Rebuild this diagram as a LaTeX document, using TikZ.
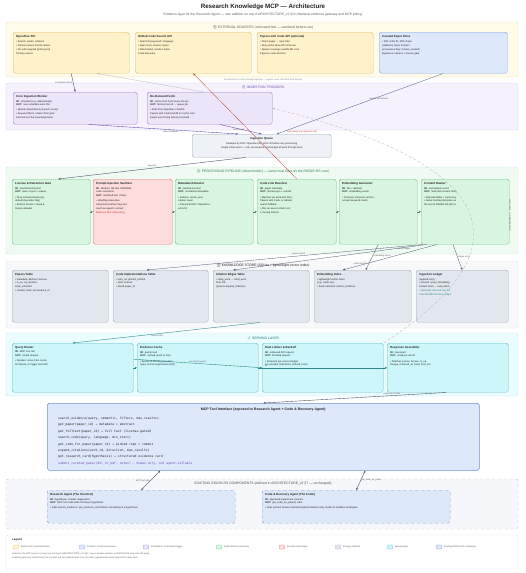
\documentclass[tikz,border=0pt]{standalone}
\usepackage{fontspec}
\setmainfont{Liberation Sans}
\setmonofont{DejaVu Sans Mono}
\newfontfamily\emo{Noto Emoji}
\usepackage{tikz}
\usetikzlibrary{arrows.meta,positioning,calc}
\usepackage{xcolor}
\definecolor{txtdark}{HTML}{222222}
\definecolor{txtgray}{HTML}{5A5A5A}
\definecolor{extfill}{HTML}{FFFBEA}
\definecolor{extline}{HTML}{F2E3A6}
\definecolor{srcfill}{HTML}{FFF1C9}
\definecolor{srcline}{HTML}{E2C36A}
\definecolor{curfill}{HTML}{DDE9FB}
\definecolor{curline}{HTML}{7FA3DD}
\definecolor{trigfill}{HTML}{F6F2FD}
\definecolor{trigline}{HTML}{DACFF2}
\definecolor{trigbox}{HTML}{ECE5FA}
\definecolor{trigboxline}{HTML}{9B86CB}
\definecolor{trigtext}{HTML}{6A4FB0}
\definecolor{queuefill}{HTML}{EEF2F7}
\definecolor{queueline}{HTML}{9FAEC2}
\definecolor{pipefill}{HTML}{EFFBF2}
\definecolor{pipeln}{HTML}{C9EDD3}
\definecolor{procfill}{HTML}{D8F5E0}
\definecolor{procline}{HTML}{74C28A}
\definecolor{pipetext}{HTML}{2E7D4F}
\definecolor{secfill}{HTML}{FDDCDC}
\definecolor{secline}{HTML}{E07B7B}
\definecolor{sectext}{HTML}{C62828}
\definecolor{storefill}{HTML}{F7F8FA}
\definecolor{storeline}{HTML}{DDE2E9}
\definecolor{tablefill}{HTML}{E2E7EE}
\definecolor{tableline}{HTML}{A3AEBD}
\definecolor{servfill}{HTML}{EBFCFE}
\definecolor{servline}{HTML}{B8EEF4}
\definecolor{servbox}{HTML}{CDF6FA}
\definecolor{servboxline}{HTML}{5EC2CE}
\definecolor{servtext}{HTML}{1F6F7A}
\definecolor{mcpfill}{HTML}{DDE8FA}
\definecolor{mcpline}{HTML}{6F93D3}
\definecolor{exfill}{HTML}{F5F7FB}
\definecolor{exline}{HTML}{B9C3D3}
\definecolor{agentfill}{HTML}{DCE7F8}
\definecolor{agentline}{HTML}{7F9ED3}
\definecolor{slate}{HTML}{4A4F6A}
\definecolor{faint}{HTML}{B4B4BC}
\definecolor{redline}{HTML}{C0392B}
\definecolor{tealline}{HTML}{2A8A8A}
\definecolor{curarrow}{HTML}{5A6F9A}
\definecolor{legline}{HTML}{E3E6EA}

\newcommand{\boxttl}[1]{{\bfseries\fontsize{2.9}{3.9}\selectfont #1}}

\tikzset{
  panel/.style={rounded corners=2pt, line width=0.4pt},
  cbox/.style={draw, rounded corners=1.8pt, line width=0.45pt, anchor=north west, inner sep=0pt},
  boxtxt/.style={anchor=north west, inner sep=0pt, align=left, font=\fontsize{2.5}{3.9}\selectfont, text=txtdark},
  hdr/.style={inner sep=0pt, font=\fontsize{3.4}{4}\selectfont},
  elabel/.style={inner sep=0.6pt, font=\fontsize{2.2}{2.6}\selectfont, text=txtgray},
  flow/.style={->, line width=0.4pt},
  swatch/.style={draw, line width=0.35pt, minimum width=5pt, minimum height=4pt, inner sep=0pt, rounded corners=0.5pt},
  legtxt/.style={inner sep=0pt, font=\fontsize{2.3}{2.8}\selectfont, text=txtgray}
}

\begin{document}
\begin{tikzpicture}[x=1pt,y=-1pt,>={Stealth[length=2.4pt,width=1.9pt]}]
  \fill[white] (0,0) rectangle (526,573);
  \useasboundingbox (0,0) rectangle (526,573);

  % Title
  \node[font=\bfseries\fontsize{6.2}{7}\selectfont, text=txtdark] (title) at (263,7) {Research Knowledge MCP — Architecture};
  \node[font=\fontsize{3.3}{4}\selectfont, text=txtgray] (subtitle) at (263,15) {Evidence layer for the Research Agent — new addition on top of ARCHITECTURE\_v2 §14 (Optional evidence gateway and MCP policy)};

  % External sources
  \draw[panel, fill=extfill, draw=extline] (6,22) rectangle (518,77);
  \node[hdr, text=txtgray] at (263,27) {{\emo 🌐} EXTERNAL SOURCES (untrusted text — sanitised before use)};
  \node[cbox, fill=srcfill, draw=srcline, minimum width=116pt, minimum height=41pt] (oalex) at (13,32) {};
  \node[boxtxt] at ([shift={(3,3)}]oalex.north west) {\boxttl{OpenAlex API}\\[1.5pt] • Search, works, citations\\ • Full-text where license allows\\ • No auth required (polite pool)\\ Primary source};
  \node[cbox, fill=srcfill, draw=srcline, minimum width=116pt, minimum height=41pt] (ghcode) at (135,32) {};
  \node[boxtxt] at ([shift={(3,3)}]ghcode.north west) {\boxttl{GitHub Code Search API}\\[1.5pt] • Search by keyword / language\\ • Repo stars, license, topics\\ • Rate limited, needs a token\\ Code discovery};
  \node[cbox, fill=srcfill, draw=srcline, minimum width=116pt, minimum height=41pt] (pwc) at (257,32) {};
  \node[boxtxt] at ([shift={(3,3)}]pwc.north west) {\boxttl{Papers with Code API (optional)}\\[1.5pt] • Direct paper → repo links\\ • Only works when API is known\\ • Sparse coverage outside ML core\\ Paper-to-code shortcut};
  \node[cbox, fill=curfill, draw=curline, minimum width=128pt, minimum height=41pt] (inbox) at (379,32) {};
  \node[boxtxt] at ([shift={(3,3)}]inbox.north west) {\boxttl{Curated Paper Inbox}\\[1.5pt] • DOI, arXiv ID, PDF drops\\ (added by hand, trusted +\\ provenance flag: human\_curated)\\ Bypasses crawlers + license gate};
  \node[elabel, text=faint!70!black] at (263,80) {All external text enters through ingestion — agents never call these APIs directly};

  % Ingestion triggers
  \draw[panel, fill=trigfill, draw=trigline] (6,83) rectangle (518,130);
  \node[hdr, text=trigtext] at (263,87) {{\emo ⏱} INGESTION TRIGGERS};
  \node[cbox, fill=trigbox, draw=trigboxline, minimum width=124pt, minimum height=32pt] (cron) at (13,92) {};
  \node[boxtxt] at ([shift={(3,3)}]cron.north west) {\boxttl{Cron Ingestion Worker}\\[0.8pt] \textbf{IN:}\enspace schedule (e.g. daily/weekly)\\ \textbf{OUT:}\enspace new candidate work IDs\\[0.8pt] • Queries OpenAlex by saved concept\\ • Keyword filters, citation floor gate\\ Self-sources the knowledge base};
  \node[cbox, fill=trigbox, draw=trigboxline, minimum width=125pt, minimum height=32pt] (ondemand) at (147,92) {};
  \node[boxtxt] at ([shift={(3,3)}]ondemand.north west) {\boxttl{On-Demand Fetch}\\[0.8pt] \textbf{IN:}\enspace cache miss from Query Router\\ \textbf{OUT:}\enspace fetched record → queue job\\[0.8pt] • Pulls from OpenAlex / GitHub\\ Papers with Code backfill on cache miss\\ Keeps user-facing latency bounded};

  % Ingestion queue
  \node[cbox, fill=queuefill, draw=queueline, minimum width=139pt, minimum height=23pt] (queue) at (192,134) {};
  \node[anchor=north, inner sep=0pt, align=center, font=\fontsize{2.5}{4.8}\selectfont, text=txtdark] at ([yshift=-3pt]queue.north) {\boxttl{Ingestion Queue}\\ Dedupes by DOI / OpenAlex ID / arXiv ID before any processing\\ Single choke point — rate, provenance, and budget all pass through here};

  % Processing pipeline
  \draw[panel, fill=pipefill, draw=pipeln] (6,167) rectangle (518,254);
  \node[hdr, text=pipetext] at (263,171) {{\emo ⚙} PROCESSING PIPELINE (deterministic) — same trust rules as the RIGOR-RS core)};
  \node[cbox, fill=procfill, draw=procline, minimum width=78pt, minimum height=65pt] (gate) at (12,179) {};
  \node[boxtxt] at ([shift={(3,3)}]gate.north west) {\boxttl{License \& Retraction Gate}\\[0.8pt] \textbf{IN:}\enspace raw fetched record\\ \textbf{OUT:}\enspace pass / reject + reason\\[1.2pt] • Drop retracted works (by\\ default OpenAlex flag)\\ • Enforce license / reuse \&\\ license allowlist};
  \node[cbox, fill=secfill, draw=secline, minimum width=79pt, minimum height=65pt] (sanit) at (93,179) {};
  \node[boxtxt] at ([shift={(3,3)}]sanit.north west) {\boxttl{Prompt-Injection Sanitizer}\\[0.8pt] \textbf{IN:}\enspace abstract, full-text, README,\\ code comments\\ \textbf{OUT:}\enspace sanitised text + flags\\[1.2pt] • Strip/flag imperative\\ instructions before they can\\ reach an agent's context\\ \textcolor{sectext}{Enforces §14.1 (ID policy)}};
  \node[cbox, fill=procfill, draw=procline, minimum width=78pt, minimum height=65pt] (meta) at (175,179) {};
  \node[boxtxt] at ([shift={(3,3)}]meta.north west) {\boxttl{Metadata Extractor}\\[0.8pt] \textbf{IN:}\enspace sanitised record\\ \textbf{OUT:}\enspace normalised metadata\\[1.2pt] • Authors, venue, year,\\ citation count\\ • Canonical DOI / OpenAlex /\\ arXiv ID};
  \node[cbox, fill=procfill, draw=procline, minimum width=79pt, minimum height=65pt] (codelink) at (257,179) {};
  \node[boxtxt] at ([shift={(3,3)}]codelink.north west) {\boxttl{Code Link Resolver}\\[0.8pt] \textbf{IN:}\enspace paper metadata\\ \textbf{OUT:}\enspace pinned repo + commit\\[1.2pt] • Matches via extracted links,\\ Papers with Code, or GitHub\\ search fallback\\ • Pins an exact commit, not\\ a moving branch};
  \node[cbox, fill=procfill, draw=procline, minimum width=78pt, minimum height=65pt] (embed) at (339,179) {};
  \node[boxtxt] at ([shift={(3,3)}]embed.north west) {\boxttl{Embedding Generator}\\[0.8pt] \textbf{IN:}\enspace title + abstract\\ \textbf{OUT:}\enspace embedding vector\\[1.2pt] • Produces semantic vectors,\\ not just keyword match};
  \node[cbox, fill=procfill, draw=procline, minimum width=88pt, minimum height=65pt] (hasher) at (421,179) {};
  \node[boxtxt] at ([shift={(3,3)}]hasher.north west) {\boxttl{Content Hasher}\\[0.8pt] \textbf{IN:}\enspace normalised record\\ \textbf{OUT:}\enspace SHA-256 content hash\\[1.2pt] • Reproducibility + cache key\\ • Same hashing discipline as\\ the rest of RIGOR-RS (§8.1)};
  \draw[flow, draw=procline!70!black] (gate.east) -- (sanit.west);
  \draw[flow, draw=procline!70!black] (sanit.east) -- (meta.west);
  \draw[flow, draw=procline!70!black] (meta.east) -- (codelink.west);
  \draw[flow, draw=procline!70!black] (codelink.east) -- (embed.west);
  \draw[flow, draw=procline!70!black] (embed.east) -- (hasher.west);

  % Knowledge store
  \draw[panel, fill=storefill, draw=storeline] (6,261) rectangle (518,328);
  \node[hdr, text=txtdark] at (263,265) {{\emo 🗄} KNOWLEDGE STORE (SQLite + lightweight vector index)};
  \node[cbox, fill=tablefill, draw=tableline, minimum width=96pt, minimum height=52pt] (papers) at (12,270) {};
  \node[boxtxt] at ([shift={(3,3)}]papers.north west) {\boxttl{Papers Table}\\[0.8pt] • metadata, abstract, license\\ • is\_oa, oa\_location,\\ work\_retracted\\ • content\_hash, provenance\_id};
  \node[cbox, fill=tablefill, draw=tableline, minimum width=95pt, minimum height=52pt] (codeimpl) at (113,270) {};
  \node[boxtxt] at ([shift={(3,3)}]codeimpl.north west) {\boxttl{Code Implementations Table}\\[0.8pt] • repo\_url, pinned\_commit\\ • stars, license\\ • linked paper\_id};
  \node[cbox, fill=tablefill, draw=tableline, minimum width=96pt, minimum height=52pt] (citation) at (213,270) {};
  \node[boxtxt] at ([shift={(3,3)}]citation.north west) {\boxttl{Citation Edges Table}\\[0.8pt] • citing\_work → cited\_work\\ from OA\\ (powers expand\_citations)};
  \node[cbox, fill=tablefill, draw=tableline, minimum width=97pt, minimum height=52pt] (embindex) at (314,270) {};
  \node[boxtxt] at ([shift={(3,3)}]embindex.north west) {\boxttl{Embedding Index}\\[0.8pt] • lightweight vector index\\ (e.g. sqlite-vec)\\ • feeds semantic search\_evidence};
  \node[cbox, fill=tablefill, draw=tableline, minimum width=92pt, minimum height=52pt] (ledger) at (416,270) {};
  \node[boxtxt] at ([shift={(3,3)}]ledger.north west) {\boxttl{Ingestion Ledger}\\[0.8pt] (append-only)\\ • records: query, timestamp,\\ content hash → every fetch\\ \textcolor{tealline}{• optionally mirrored into the}\\ \textcolor{tealline}{main RIGOR-RS Run Ledger}};

  % Serving layer
  \draw[panel, fill=servfill, draw=servline] (6,333) rectangle (518,396);
  \node[hdr, text=servtext] at (263,338) {{\emo ⚡} SERVING LAYER};
  \node[cbox, fill=servbox, draw=servboxline, minimum width=121pt, minimum height=49pt] (router) at (12,343) {};
  \node[boxtxt] at ([shift={(3,3)}]router.north west) {\boxttl{Query Router}\\[0.8pt] \textbf{IN:}\enspace MCP tool call\\ \textbf{OUT:}\enspace routed request\\[1.2pt] • Decides: serve from cache,\\ hit SQLite, or trigger live fetch};
  \node[cbox, fill=servbox, draw=servboxline, minimum width=121pt, minimum height=49pt] (cache) at (137,343) {};
  \node[boxtxt] at ([shift={(3,3)}]cache.north west) {\boxttl{Evidence Cache}\\[0.8pt] \textbf{IN:}\enspace query hash\\ \textbf{OUT:}\enspace cached result or miss\\[1.2pt] • Avoids re-fetching the same\\ query across experiments (§11)};
  \node[cbox, fill=servbox, draw=servboxline, minimum width=121pt, minimum height=49pt] (rate) at (262,343) {};
  \node[boxtxt] at ([shift={(3,3)}]rate.north west) {\boxttl{Rate Limiter \& Backoff}\\[0.8pt] \textbf{IN:}\enspace outbound API request\\ \textbf{OUT:}\enspace throttled request\\[1.2pt] • Respects per-source budget\\ per provider (OpenAlex, GitHub, PwC)};
  \node[cbox, fill=servbox, draw=servboxline, minimum width=121pt, minimum height=49pt] (assembler) at (387,343) {};
  \node[boxtxt] at ([shift={(3,3)}]assembler.north west) {\boxttl{Response Assembler}\\[0.8pt] \textbf{IN:}\enspace raw result\\ \textbf{OUT:}\enspace evidence record\\[1.2pt] • Attaches source, license, is\_oa,\\ lineage, retrieved\_at, hash, trust\_tier};

  % MCP tool interface
  \node[cbox, fill=mcpfill, draw=mcpline, line width=0.6pt, minimum width=432pt, minimum height=67pt] (mcp) at (47,403) {};
  \node[anchor=north, inner sep=0pt, font=\bfseries\fontsize{3.5}{4}\selectfont, text=txtdark] at ([yshift=-5pt]mcp.north) {MCP Tool Interface (exposed to Research Agent + Code \& Recovery Agent)};
  \node[anchor=north west, inner sep=0pt, align=left, font=\ttfamily\fontsize{3.1}{6.4}\selectfont, text=txtdark] at ([shift={(11,14)}]mcp.north west) {search\_evidence(query, semantic, filters, max\_results)\\ get\_paper(paper\_id) → metadata + abstract\\ get\_fulltext(paper\_id) → full text (license-gated)\\ search\_code(query, language, min\_stars)\\ get\_code\_for\_paper(paper\_id) → pinned repo + commit\\ expand\_citations(work\_id, direction, max\_results)\\ get\_research\_card(hypothesis) → structured evidence card\\ \textcolor{trigtext}{submit\_curated\_paper(doi\_or\_pdf, notes) — human-only, not agent-callable}};

  % Existing RIGOR-RS components
  \draw[panel, dashed, fill=exfill, draw=exline] (6,479) rectangle (518,529);
  \node[hdr, text=txtdark!80] at (263,484) {EXISTING RIGOR-RS COMPONENTS (defined in ARCHITECTURE\_v2 §7 — unchanged)};
  \node[cbox, dashed, fill=agentfill, draw=agentline, minimum width=188pt, minimum height=33pt] (research) at (47,490) {};
  \node[boxtxt] at ([shift={(3,3)}]research.north west) {\boxttl{Research Agent (The Scientist)}\\[0.8pt] \textbf{IN:}\enspace hypothesis, context, diagnostics\\ \textbf{OUT:}\enspace MCP tool calls while forming a hypothesis\\[0.8pt] • Calls search\_evidence / get\_research\_card before committing to a hypothesis};
  \node[cbox, dashed, fill=agentfill, draw=agentline, minimum width=188pt, minimum height=33pt] (coder) at (262,490) {};
  \node[boxtxt] at ([shift={(3,3)}]coder.north west) {\boxttl{Code \& Recovery Agent (The Coder)}\\[0.8pt] \textbf{IN:}\enspace approved experiment contract\\ \textbf{OUT:}\enspace get\_code\_for\_paper() calls\\[0.8pt] • Uses pinned, license-checked implementations only, inside its sandbox workspace};

  % Legend
  \draw[panel, fill=white, draw=legline] (6,535) rectangle (518,569);
  \node[anchor=west, inner sep=0pt, font=\bfseries\fontsize{2.8}{3.2}\selectfont, text=txtdark] (legtitle) at (12,540) {Legend};
  \node[swatch, fill=srcfill, draw=srcline] (lgsrc) at (16,547) {};
  \node[legtxt, right=2pt of lgsrc] {External API (untrusted text)};
  \node[swatch, fill=curfill, draw=curline] (lgcur) at (82,547) {};
  \node[legtxt, right=2pt of lgcur] {Curated / human provenance};
  \node[swatch, fill=trigbox, draw=trigboxline] (lgtrig) at (146,547) {};
  \node[legtxt, right=2pt of lgtrig] {Scheduled / on-demand trigger};
  \node[swatch, fill=procfill, draw=procline] (lgproc) at (219,547) {};
  \node[legtxt, right=2pt of lgproc] {Deterministic processing};
  \node[swatch, fill=secfill, draw=secline] (lgsec) at (282,547) {};
  \node[legtxt, right=2pt of lgsec] {Security-critical gate};
  \node[swatch, fill=tablefill, draw=tableline] (lgstore) at (338,547) {};
  \node[legtxt, right=2pt of lgstore] {Storage (SQLite)};
  \node[swatch, fill=servbox, draw=servboxline] (lgserv) at (390,547) {};
  \node[legtxt, right=2pt of lgserv] {Serving layer};
  \node[swatch, fill=agentfill, draw=agentline] (lgex) at (439,547) {};
  \node[legtxt, right=2pt of lgex] {Existing RIGOR-RS component};
  \node[anchor=north west, inner sep=0pt, align=left, font=\fontsize{2.2}{4}\selectfont, text=txtgray] at (12,553) {Authority: the MCP server is a read-only tool layer (ARCHITECTURE\_v2 §14); it never decides verdicts, and RIGOR-RS core rules still apply.\\ Curated papers are marked trust\_tier=curated and are preferred over trust\_tier=auto\_ingested when both support the same claim.};

  % Connectors: sources and triggers
  \draw[flow, draw=slate] (oalex.south) -- (cron.north) node[elabel, midway, left] {scheduled search};
  \draw[flow, line width=0.3pt, draw=faint] ([xshift=-6pt]ondemand.north) -- ([xshift=26pt]oalex.south);
  \draw[flow, line width=0.3pt, draw=redline] (codelink.north) -- (ghcode.south) node[elabel, text=redline, pos=0.45, right=36pt] {repo lookup (tool-injection risk)};
  \draw[flow, draw=curarrow] (inbox.south) -- ([xshift=15pt]queue.north) node[elabel, pos=0.45, above right] {curated submission};
  \draw[flow, draw=trigtext] ([xshift=13pt]cron.south) -- ([xshift=-23.5pt]queue.north) node[elabel, pos=0.55, below] {new candidates};
  \draw[flow, draw=trigtext] ([xshift=10pt]ondemand.south) -- (queue.north) node[elabel, pos=0.6, left] {fetch result};
  \draw[flow, line width=0.3pt, draw=faint, densely dashed] (rate.north east) .. controls (520,255) and (515,168) .. (ondemand.east) node[elabel, pos=0.5, xshift=40pt, rotate=-90] {cache miss → on-demand fetch};
  \draw[flow, draw=slate] ([xshift=-16pt]queue.south) -- ([xshift=7pt]gate.north) node[elabel, midway, above] {dequeue};

  % Connectors: pipeline to knowledge store
  \draw[flow, line width=0.3pt, draw=slate] ([xshift=2pt]hasher.south west) -- ([xshift=-14pt]codeimpl.north) node[elabel, pos=0.45, above] {paper record};
  \draw[flow, line width=0.3pt, draw=slate] ([xshift=6pt]hasher.south west) -- ([xshift=-28pt]citation.north) node[elabel, pos=0.12, below] {citation edges};
  \draw[flow, line width=0.3pt, draw=slate] (embed.south) -- ([xshift=3pt]embindex.north) node[elabel, pos=0.45, right] {embedding vector};
  \draw[flow, line width=0.3pt, draw=slate] ([xshift=16pt]hasher.south west) -- ([xshift=-20pt]embindex.north) node[elabel, pos=0.75, left] {code record};
  \draw[flow, line width=0.3pt, draw=slate] ([xshift=32pt]hasher.south west) -- (ledger.north) node[elabel, midway, right] {ledger entry};

  % Connectors: serving layer
  \draw[flow, draw=tealline] ([xshift=-1pt]citation.south) -- (router.north) node[elabel, pos=0.55, below] {stored rows};
  \draw[flow, draw=tealline] (router.east) -- (cache.west);
  \draw[flow, draw=tealline] ([yshift=8.5pt]router.east) -- (rate.west) node[elabel, pos=0.5, above] {live fetch request};
  \draw[flow, draw=tealline] (cache.east) -- (assembler.west) node[elabel, pos=0.06, above] {hit};
  \draw[flow, draw=slate] ([xshift=-1pt]assembler.south) -- (mcp.north) node[elabel, pos=0.3, above] {evidence records};

  % Connectors: MCP and agents
  \draw[<->, line width=0.4pt, draw=slate] (research.north) -- ([xshift=-103pt]mcp.south) node[elabel, midway, left] {MCP tool calls};
  \draw[<->, line width=0.4pt, draw=slate] (coder.north) -- ([xshift=102pt]mcp.south) node[elabel, midway, right] {get\_code\_for\_paper};
\end{tikzpicture}
\end{document}
